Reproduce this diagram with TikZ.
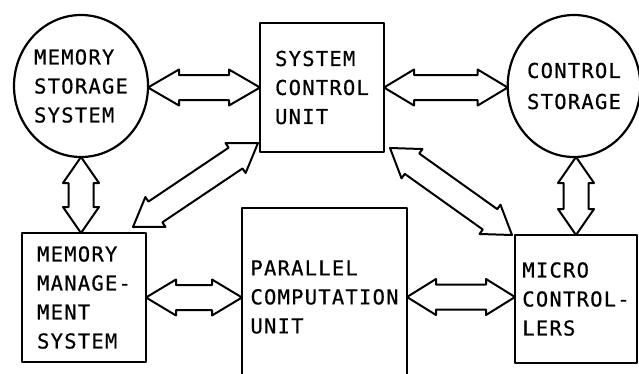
\documentclass[tikz,border=0pt]{standalone}
\usepackage{fontspec}
\newfontfamily\lettering{DejaVu Sans Mono}[LetterSpace=6, FakeBold=0.6]
\usetikzlibrary{shapes.geometric,calc}

\tikzset{
  x=1pt, y=-1pt,
  ink/.style={line width=2.2pt, line join=round, line cap=round},
  unitbox/.style={ink, draw, rectangle, inner sep=2pt, outer sep=0pt, align=left,
    font=\lettering\fontsize{20.5}{29}\selectfont},
  storage/.style={ink, draw, ellipse, inner sep=0pt, outer sep=0pt, align=left,
    font=\lettering\fontsize{20.5}{29}\selectfont},
  busline/.style={ink, draw, line width=2pt},
}

% hollow double-headed bus arrow between two named points
% #1 head length, #2 first end, #3 second end
\newcommand\busarrow[3][29]{%
  \path[busline] let \p1=($(#3)-(#2)$), \n1={atan2(\y1,\x1)}, \n2={veclen(\x1,\y1)} in
    {[shift={(#2)}, rotate=\n1]
      (0,0) -- (#1,18) -- (#1,12.5) -- (\n2-#1,12.5) -- (\n2-#1,18) -- (\n2,0)
      -- (\n2-#1,-18) -- (\n2-#1,-12.5) -- (#1,-12.5) -- (#1,-18) -- cycle};
}

\begin{document}
\begin{tikzpicture}
\useasboundingbox (0,0) rectangle (639,373);
\fill[white] (0,0) rectangle (639,373);

% storage units
\node[storage, minimum width=134pt, minimum height=142pt] (mss) at (81,86)
  {MEMORY\\STORAGE\\SYSTEM};
\node[storage, minimum width=130pt, minimum height=142pt,
  font=\lettering\fontsize{20.5}{31}\selectfont] (cs) at (574,86)
  {CONTROL\\STORAGE};

% processing units
\node[unitbox, minimum width=124pt, minimum height=129pt] (scu) at (322,87.5)
  {SYSTEM\\CONTROL\\UNIT};
\node[unitbox, minimum width=124pt, minimum height=129pt] (mms) at (84,297.5)
  {MEMORY\\MANAGE-\\MENT\\SYSTEM};
\node[unitbox, minimum width=165pt, minimum height=178pt] (pcu) at (324.5,297)
  {PARALLEL\\COMPUTATION\\UNIT};
\node[unitbox, minimum width=122pt, minimum height=128pt] (mc) at (576,299)
  {MICRO\\CONTROL-\\LERS};

% arrow end points
\coordinate (mssR) at (scu.west -| mss.east);
\coordinate (scuL) at (scu.west);
\coordinate (scuR) at (scu.east);
\coordinate (csL)  at (scu.east -| cs.west);
\coordinate (mssB) at (mss.south);
\coordinate (mmsT) at (mss.south |- mms.north);
\coordinate (mcT)  at (mc.north);
\coordinate (csB)  at (mc.north |- cs.south);
\coordinate (mmsR) at (mms.east);
\coordinate (pcuL) at (mms.east -| pcu.west);
\coordinate (pcuR) at (pcu.east);
\coordinate (mcL)  at (pcu.east -| mc.west);
\coordinate (scuSW) at ($(scu.south west)+(-2,-9)$);
\coordinate (mmsNE) at ($(mms.north east)+(-13,-6)$);
\coordinate (scuSE) at ($(scu.south east)+(6,-4)$);
\coordinate (mcNW)  at ($(mc.north west)+(-3,0)$);

% buses
\busarrow[31]{mssR}{scuL}
\busarrow[30]{scuR}{csL}
\busarrow[26]{mssB}{mmsT}
\busarrow[26]{csB}{mcT}
\busarrow[30]{mmsR}{pcuL}
\busarrow[29]{pcuR}{mcL}
\busarrow[27]{scuSW}{mmsNE}
\busarrow[27]{scuSE}{mcNW}
\end{tikzpicture}
\end{document}
